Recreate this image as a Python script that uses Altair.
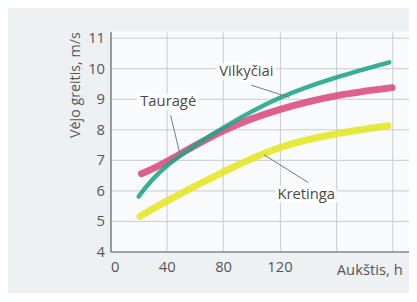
import altair as alt
import pandas as pd

heights_v = [20, 40, 80, 120, 160, 198]
vilkyciai = [5.8, 6.8, 8.05, 9.03, 9.7, 10.2]
heights_t = [22, 40, 80, 120, 160, 200]
taurage = [6.55, 6.95, 7.95, 8.65, 9.1, 9.37]
heights_k = [21, 40, 80, 120, 160, 197]
kretinga = [5.15, 5.65, 6.6, 7.4, 7.85, 8.12]

rows = []
for n, xs, ys in [("Kretinga", heights_k, kretinga), ("Tauragė", heights_t, taurage), ("Vilkyčiai", heights_v, vilkyciai)]:
    for x, y in zip(xs, ys):
        rows.append({"s": n, "x": x, "y": y})
df = pd.DataFrame(rows)

label_names = ["Vilkyčiai", "Tauragė", "Kretinga"]
label_x = [96.5, 41, 139]
label_y = [9.91, 8.94, 5.88]
lead_x1 = [100, 42.7, 109]
lead_y1 = [9.45, 8.46, 7.17]
lead_x2 = [127, 49, 140.5]
lead_y2 = [9.05, 7.26, 6.26]
labels = pd.DataFrame({"name": label_names, "x": label_x, "y": label_y})
leads = pd.DataFrame({"x": lead_x1, "y": lead_y1, "x2": lead_x2, "y2": lead_y2})

xs = alt.Scale(domain=[0, 212], nice=False, zero=False)
ys = alt.Scale(domain=[4, 11.2], nice=False, zero=False)
FONT = "Open Sans"

colors = {"Kretinga": "#e4e624", "Tauragė": "#d94a7c", "Vilkyčiai": "#1ea486"}
widths = {"Kretinga": 7, "Tauragė": 7, "Vilkyčiai": 4.5}

xaxis = alt.Axis(values=[0, 40, 80, 120, 160, 200], title=None,
                 labelExpr="datum.value <= 120 ? datum.label : ''",
                 labelPadding=8)
yaxis = alt.Axis(values=[4, 5, 6, 7, 8, 9, 10, 11],
                 title="Vėjo greitis, m/s", titleAnchor="end", titlePadding=5,
                 labelPadding=6)

layers = []
for n in ["Kretinga", "Tauragė", "Vilkyčiai"]:
    layers.append(
        alt.Chart(df[df.s == n]).mark_line(
            color=colors[n], strokeWidth=widths[n], opacity=0.88,
            interpolate="natural", strokeCap="round"
        ).encode(
            x=alt.X("x:Q", scale=xs, axis=xaxis),
            y=alt.Y("y:Q", scale=ys, axis=yaxis),
        )
    )

lead_layer = alt.Chart(leads).mark_rule(color="#777", strokeWidth=1).encode(
    x=alt.X("x:Q", scale=xs, axis=xaxis), y=alt.Y("y:Q", scale=ys, axis=yaxis),
    x2="x2:Q", y2="y2:Q")
halo = alt.Chart(labels).mark_text(font=FONT, fontSize=15, color="white", stroke="white",
                                   strokeWidth=7, strokeOpacity=0.9).encode(
    x=alt.X("x:Q", scale=xs, axis=xaxis), y=alt.Y("y:Q", scale=ys, axis=yaxis), text="name:N")
txt = alt.Chart(labels).mark_text(font=FONT, fontSize=15, color="#4a4a4a").encode(
    x=alt.X("x:Q", scale=xs, axis=xaxis), y=alt.Y("y:Q", scale=ys, axis=yaxis), text="name:N")
xtitle = alt.Chart(pd.DataFrame({"x": [160], "t": ["Aukštis, h"]})).mark_text(
    font=FONT, fontSize=15, color="#555", align="left", dx=1
).encode(x=alt.X("x:Q", scale=xs, axis=xaxis), y=alt.value(242), text="t:N")

chart = alt.layer(*layers, lead_layer, halo, txt, xtitle).properties(
    width=303, height=223,
    padding={"left": 104, "top": 22, "right": 0, "bottom": 40},
    autosize="none",
    background="#eef1f4",
).configure_view(fill="#f9fafc", stroke=None).configure_axis(
    grid=True, gridColor="#c9cbcf", gridWidth=1, labelOverlap=False,
    domainColor="#666", domainWidth=1.2, ticks=False,
    labelFontSize=15, labelColor="#555", labelFont=FONT,
    titleFontSize=14.5, titleFontWeight="normal", titleColor="#555", titleFont=FONT,
)

chart.save("out.html", embed_options={"renderer": "svg", "actions": False})
